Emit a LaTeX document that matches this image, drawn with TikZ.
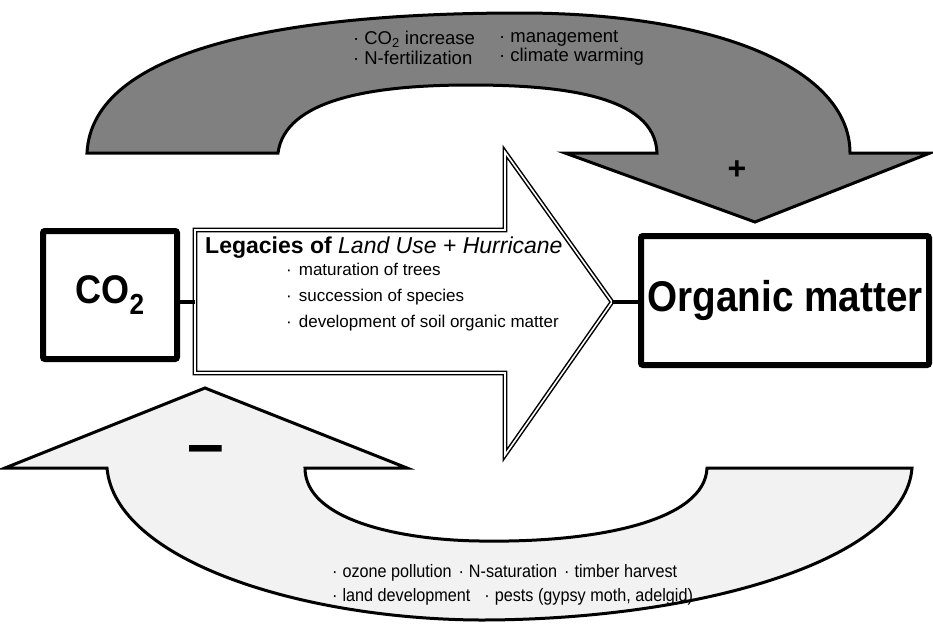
\documentclass[tikz,border=0pt]{standalone}
\usepackage{fontspec}
\setmainfont{Liberation Sans}
\newfontfamily\nar[FakeStretch=0.9]{Liberation Sans}
\begin{document}
\begin{tikzpicture}[x=1pt,y=-1pt,
  box/.style={draw=black, line width=6pt, rounded corners=2pt, fill=white, inner sep=0pt},
  darkarrow/.style={draw=black, line width=3pt, fill=black!50, line join=miter},
  lightarrow/.style={draw=black, line width=3pt, fill=black!5, line join=miter},
  hollow/.style={draw=black, line width=1.5pt, double=white, double distance=1.6pt, fill=white, line join=miter},
  link/.style={draw=black, line width=3.5pt},
  lbl/.style={inner sep=0pt, align=left, font=\nar\fontsize{18}{26}\selectfont}
]
\useasboundingbox (0,0) rectangle (933,624);

% upper (positive) curved arrow
\path[darkarrow] (87,153) .. controls (92,50) and (280,13) .. (520,13)
  .. controls (720,13) and (850,70) .. (850,153) -- (930,153) -- (755,222) -- (565,153) -- (657,153)
  .. controls (655,95) and (560,85) .. (470,85) .. controls (370,85) and (285,100) .. (278,153) -- cycle;

% lower (negative) curved arrow
\path[lightarrow] (107,468) .. controls (115,560) and (300,619) .. (480,620)
  .. controls (700,620) and (905,560) .. (912,468) -- (707,468)
  .. controls (705,520) and (600,543) .. (480,541) .. controls (400,540) and (305,520) .. (305,468)
  -- (407,468) -- (205,388) -- (5,468) -- cycle;

% central hollow arrow
\path[hollow] (195,230) -- (505,230) -- (505,152) -- (612,302) -- (505,455) -- (505,373) -- (195,373) -- cycle;
\coordinate (ltail) at (195,302);
\coordinate (ltip) at (612,302);

% boxes
\node[box, minimum width=134pt, minimum height=128pt, font=\nar\bfseries\fontsize{40}{40}\selectfont] (co2) at (110,295)
  {\raisebox{-5pt}{CO\raisebox{-0.28em}{\fontsize{29}{29}\selectfont 2}}};
\node[box, minimum width=288pt, minimum height=129pt, font=\nar\bfseries\fontsize{43}{43}\selectfont] (om) at (785,300.5)
  {\raisebox{-2pt}{Organic matter}};

% connectors
\draw[link] (ltail) -- (ltail -| co2.east);
\draw[link] (ltip) -- (ltip -| om.west);

% texts
\node[lbl, anchor=west, font=\fontsize{23}{28}\selectfont] (leg) at (205,248)
  {\textbf{Legacies of} \textit{Land Use + Hurricane}};
\node[lbl, anchor=west, font=\fontsize{17}{26}\selectfont] (items) at (286,297)
  {·\hspace{7pt}maturation of trees\\ ·\hspace{7pt}succession of species\\ ·\hspace{7pt}development of soil organic matter};

\node[lbl, anchor=west, font=\fontsize{18.5}{19.5}\selectfont] (up1) at (353,48)
  {·\hspace{5pt}CO\textsubscript{2} increase\\ ·\hspace{5pt}N-fertilization};
\node[lbl, anchor=west, font=\fontsize{18.5}{19.5}\selectfont] (up2) at (499,48)
  {·\hspace{5pt}management\\ ·\hspace{5pt}climate warming};
\node[font=\bfseries\fontsize{32}{32}\selectfont] (plus) at (737,170) {+};

\node[lbl, anchor=west] (lo1) at (332,573)
  {·\hspace{5pt}ozone pollution\hspace{7pt}·\hspace{5pt}N-saturation\hspace{7pt}·\hspace{5pt}timber harvest};
\node[lbl, anchor=west] (lo2) at (332,597)
  {·\hspace{5pt}land development\hspace{14pt}·\hspace{5pt}pests (gypsy moth, adelgid)};
\node[font=\bfseries\fontsize{66}{66}\selectfont, inner sep=0pt] (minus) at (206,456) {–};
\end{tikzpicture}
\end{document}
